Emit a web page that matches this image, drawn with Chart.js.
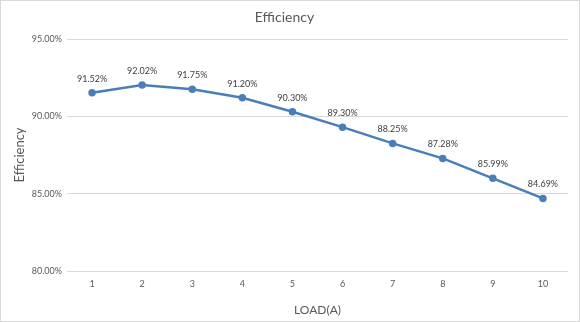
<!DOCTYPE html>
<html>
<head>
<meta charset="utf-8">
<script src="https://cdn.jsdelivr.net/npm/chart.js@4.4.1/dist/chart.umd.min.js"></script>
<style>
  html, body { margin: 0; padding: 0; background: #fff; }
  #box { width: 580px; height: 322px; border: 1px solid #d9d9d9; box-sizing: border-box; }
  canvas { display: block; }
</style>
</head>
<body>
<div id="box"><canvas id="c" width="578" height="320"></canvas></div>
<script>
const loads = ["1", "2", "3", "4", "5", "6", "7", "8", "9", "10"];
const efficiency = [91.52, 92.02, 91.75, 91.20, 90.30, 89.30, 88.25, 87.28, 85.99, 84.69];
const yTicks = [80, 85, 90, 95];

const FONT = "Lato, 'Open Sans', sans-serif";
const GREY = "#595959";

// etiquetas encima de cada punto
const pointLabels = {
    id: "pointLabels",
    afterDatasetsDraw: function (chart) {
        const ctx = chart.ctx;
        const meta = chart.getDatasetMeta(0);
        ctx.save();
        ctx.font = "9px " + FONT;
        ctx.fillStyle = "#404040";
        ctx.textAlign = "center";
        ctx.textBaseline = "middle";
        meta.data.forEach((pt, i) => {
            ctx.fillText(efficiency[i].toFixed(2) + "%", pt.x, pt.y - 14);
        });
        ctx.restore();
    }
};

new Chart(document.getElementById("c").getContext("2d"), {
    type: "line",
    data: {
        labels: loads,
        datasets: [{
            data: efficiency,
            borderColor: "#4a7ebb",
            backgroundColor: "#4a7ebb",
            borderWidth: 2.5,
            pointRadius: 2.5,
            pointHoverRadius: 2.5,
            tension: 0
        }]
    },
    options: {
        responsive: false,
        animation: { duration: 0 },
        layout: { padding: { left: 0, right: 11, top: 0, bottom: 0 } },
        plugins: {
            legend: { display: false },
            tooltip: { enabled: false },
            title: {
                display: true,
                text: "Efficiency",
                color: GREY,
                font: { family: FONT, size: 14, weight: "normal" },
                padding: { top: 8, bottom: 13.2 }
            }
        },
        scales: {
            x: {
                offset: true,
                grid: { display: false, drawTicks: false },
                border: { display: false },
                ticks: { color: GREY, font: { family: FONT, size: 9 }, padding: 8 },
                title: {
                    display: true,
                    text: "LOAD(A)",
                    color: GREY,
                    font: { family: FONT, size: 12 },
                    padding: { top: 6 }
                },
                afterFit: function (axis) { axis.height = 50; }
            },
            y: {
                min: 80,
                max: 95,
                afterBuildTicks: function (axis) {
                    axis.ticks = yTicks.map(v => ({ value: v }));
                },
                grid: { color: "#d9d9d9", lineWidth: 1, drawTicks: false },
                border: { display: false },
                ticks: {
                    color: GREY,
                    font: { family: FONT, size: 9 },
                    padding: 5,
                    callback: v => v.toFixed(2) + "%"
                },
                title: {
                    display: true,
                    text: "Efficiency",
                    color: GREY,
                    font: { family: FONT, size: 13 },
                    padding: { top: 11, bottom: 0 }
                },
                afterFit: function (axis) { axis.width = 66; }
            }
        }
    },
    plugins: [pointLabels]
});
</script>
</body>
</html>
